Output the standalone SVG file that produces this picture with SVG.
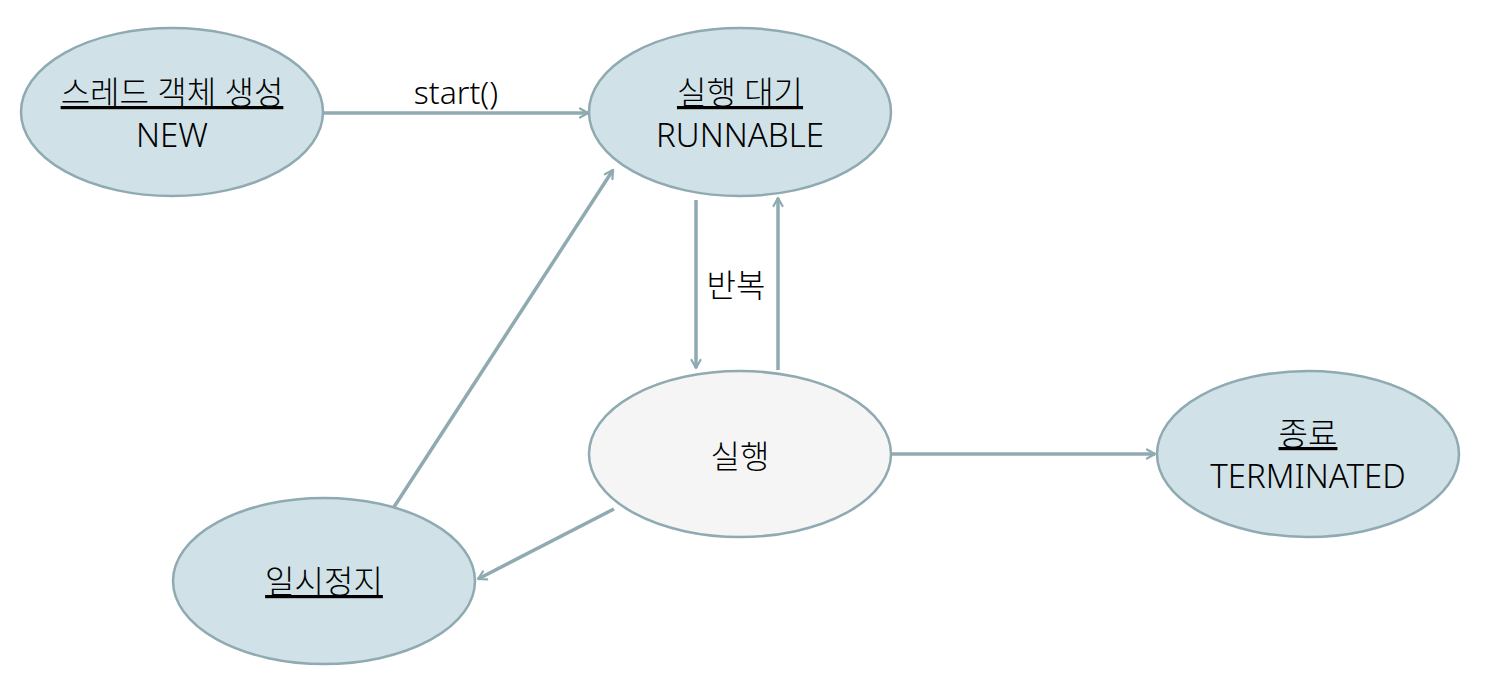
<svg xmlns="http://www.w3.org/2000/svg" width="1492" height="690" viewBox="0 0 1492 690">
<defs>
<style>
.node{fill:#D0E2E7;stroke:#8FAAB1;stroke-width:2.5}
.run{fill:#F5F5F5;stroke:#8FAAB1;stroke-width:2.5}
.lbl{font-family:"Noto Sans","Noto Sans CJK KR",sans-serif;font-size:32px;font-weight:300;fill:#000;text-anchor:middle}
.en{font-size:33px}
.u{text-decoration:underline}
.edge{stroke:#8FAAB1;stroke-width:3.5;fill:none;marker-end:url(#arr)}
</style>
<marker id="arr" viewBox="0 0 12 12" refX="10" refY="6" markerWidth="12" markerHeight="12" markerUnits="userSpaceOnUse" orient="auto">
<path d="M2,1.5 L10,6 L2,10.5" fill="none" stroke="#8FAAB1" stroke-width="2.2" stroke-linecap="round" stroke-linejoin="round"/>
</marker>
</defs>
<rect width="1492" height="690" fill="#fff"/>
<g id="connectors">
<line class="edge" x1="324" y1="113" x2="588" y2="113"/>
<line class="edge" x1="696" y1="200" x2="696" y2="368"/>
<line class="edge" x1="778" y1="370" x2="778" y2="198"/>
<line class="edge" x1="892" y1="454" x2="1155" y2="454"/>
<line class="edge" x1="614" y1="509" x2="478" y2="579"/>
<line class="edge" x1="394" y1="507" x2="613" y2="170"/>
<text class="lbl" x="456" y="104">start()</text>
<text class="lbl" x="736" y="297">반복</text>
</g>
<g id="node-new">
<ellipse class="node" cx="172" cy="112" rx="151" ry="84"/>
<text class="lbl u" x="172" y="104">스레드 객체 생성</text>
<text class="lbl en" x="172" y="147">NEW</text>
</g>
<g id="node-runnable">
<ellipse class="node" cx="740" cy="112" rx="151" ry="84"/>
<text class="lbl u" x="740" y="104">실행 대기</text>
<text class="lbl en" x="740" y="147">RUNNABLE</text>
</g>
<g id="node-running">
<ellipse class="run" cx="740" cy="454" rx="151" ry="83"/>
<text class="lbl" x="740" y="468">실행</text>
</g>
<g id="node-terminated">
<ellipse class="node" cx="1308" cy="454" rx="151" ry="83"/>
<text class="lbl u" x="1308" y="445">종료</text>
<text class="lbl en" x="1308" y="488">TERMINATED</text>
</g>
<g id="node-waiting">
<ellipse class="node" cx="324" cy="581" rx="151" ry="83"/>
<text class="lbl u" x="324" y="593">일시정지</text>
</g>
</svg>
